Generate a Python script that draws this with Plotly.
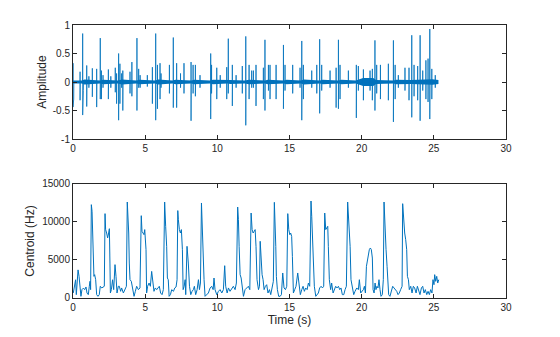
import plotly.graph_objects as go
from plotly.subplots import make_subplots

# ---- Top panel: audio waveform, read as individual bursts (time s, positive peak, negative peak)
spike_t = [0.00, 0.05, 0.49, 0.67, 0.72, 0.95, 1.10, 1.34, 1.64, 1.89, 1.97, 2.08, 2.45, 2.62,
           2.93, 3.02, 3.16, 3.25, 3.37, 3.45, 3.95, 4.08, 4.43, 4.55, 4.65, 5.15, 5.50, 5.73,
           5.85, 6.03, 6.10, 6.68, 6.95, 7.18, 7.45, 7.69, 8.18, 8.32, 8.48, 8.80, 9.54, 9.60,
           9.96, 10.20, 10.65, 10.76, 11.04, 11.30, 11.73, 11.97, 12.20, 12.38, 12.50, 12.68,
           13.19, 13.30, 13.54, 13.65, 14.07, 14.58, 14.69, 15.22, 15.73, 15.85, 15.96, 16.54,
           16.89, 17.09, 17.23, 17.81, 18.23, 18.39, 18.50, 19.08, 19.63, 19.77, 20.12, 20.58,
           20.74, 20.92, 21.04, 21.30, 21.85, 22.20, 22.32, 22.54, 23.00, 23.28, 23.47, 23.63,
           23.88, 24.05, 24.23, 24.45, 24.60, 24.72, 24.86, 25.10]
spike_up = [0.33, 0.20, 0.18, 0.85, 0.26, 0.29, 0.10, 0.24, 0.23, 0.77, 0.20, 0.12, 0.22, 0.10,
            0.25, 0.15, 0.50, 0.32, 0.15, 0.20, 0.18, 0.35, 0.77, 0.23, 0.12, 0.12, 0.26, 0.85,
            0.30, 0.33, 0.15, 0.30, 0.78, 0.33, 0.15, 0.33, 0.35, 0.30, 0.30, 0.12, 0.50, 0.30,
            0.25, 0.12, 0.26, 0.76, 0.30, 0.12, 0.28, 0.80, 0.30, 0.20, 0.20, 0.30,
            0.25, 0.74, 0.30, 0.30, 0.30, 0.65, 0.30, 0.30, 0.25, 0.72, 0.30, 0.20,
            0.30, 0.75, 0.30, 0.20, 0.25, 0.74, 0.30, 0.20, 0.30, 0.28, 0.22, 0.20,
            0.23, 0.73, 0.30, 0.30, 0.32, 0.73, 0.30, 0.12, 0.25, 0.25, 0.82, 0.30,
            0.28, 0.82, 0.20, 0.38, 0.41, 0.93, 0.23, 0.12]
spike_down = [-0.44, -0.30, -0.32, -0.58, -0.15, -0.43, -0.10, -0.26, -0.44, -0.30, -0.30, -0.10, -0.30, -0.10,
              -0.18, -0.38, -0.67, -0.38, -0.10, -0.50, -0.20, -0.25, -0.50, -0.10, -0.10, -0.08, -0.38, -0.67,
              -0.47, -0.30, -0.10, -0.20, -0.45, -0.45, -0.10, -0.20, -0.68, -0.20, -0.25, -0.10, -0.65, -0.20,
              -0.30, -0.10, -0.30, -0.20, -0.42, -0.10, -0.20, -0.76, -0.30, -0.10, -0.10, -0.42,
              -0.30, -0.50, -0.15, -0.30, -0.30, -0.47, -0.15, -0.20, -0.10, -0.67, -0.30, -0.10,
              -0.20, -0.55, -0.15, -0.10, -0.45, -0.47, -0.30, -0.10, -0.63, -0.15, -0.32, -0.15,
              -0.32, -0.50, -0.20, -0.30, -0.32, -0.70, -0.30, -0.10, -0.15, -0.32, -0.62, -0.25,
              -0.32, -0.68, -0.15, -0.30, -0.35, -0.65, -0.30, -0.10]

# dense low-level floor of the waveform (envelope)
floor_t = [0.0, 0.6, 0.8, 1.9, 2.1, 3.1, 3.4, 4.4, 4.6, 5.7, 5.9, 6.9, 7.1, 8.2, 8.4, 9.5, 9.7,
           10.7, 10.9, 11.9, 12.2, 13.3, 13.5, 14.6, 14.8, 15.8, 16.0, 17.1, 17.3, 18.4, 18.6,
           19.6, 19.8, 20.1, 20.8, 21.0, 22.2, 22.4, 23.4, 24.9, 25.32]
floor_amp = [0.025, 0.025, 0.045, 0.025, 0.04, 0.025, 0.045, 0.025, 0.04, 0.025, 0.045, 0.025, 0.04, 0.025, 0.04,
             0.025, 0.04, 0.025, 0.035, 0.025, 0.04, 0.025, 0.04, 0.025, 0.04, 0.025, 0.045, 0.025, 0.04,
             0.025, 0.04, 0.025, 0.04, 0.07, 0.07, 0.035, 0.025, 0.04, 0.035, 0.05, 0.035]

# ---- Bottom panel: spectral centroid (Hz)
cent_t = [0.02, 0.12, 0.18, 0.23, 0.35, 0.42, 0.48, 0.55, 0.62, 0.72, 0.81, 0.90, 0.97, 1.06, 1.13, 1.18,
          1.22, 1.27, 1.32, 1.36, 1.41, 1.45, 1.50, 1.57, 1.64, 1.73, 1.82, 1.89, 1.99, 2.08, 2.17,
          2.22, 2.26, 2.33, 2.40, 2.47, 2.52, 2.56, 2.59, 2.66, 2.74, 2.82, 2.91, 2.98, 3.05, 3.14,
          3.21, 3.30, 3.37, 3.49, 3.60, 3.70, 3.76, 3.81, 3.86, 3.90, 3.95, 4.04, 4.13, 4.23, 4.32,
          4.41, 4.53, 4.64, 4.73, 4.78, 4.85, 4.92, 4.97, 5.01, 5.06, 5.10, 5.17, 5.27, 5.36, 5.45,
          5.52, 5.61, 5.70, 5.80, 5.89, 5.98, 6.07, 6.17, 6.26, 6.35, 6.42, 6.49, 6.54, 6.60,
          6.66, 6.75, 6.84, 6.96, 7.05, 7.14, 7.21, 7.26, 7.30, 7.37, 7.44, 7.51, 7.58, 7.63, 7.70,
          7.77, 7.81, 7.90, 7.95, 7.99, 8.07, 8.16, 8.25, 8.34, 8.41, 8.50, 8.60, 8.69, 8.76, 8.83,
          8.90, 8.94, 8.99, 9.04, 9.08, 9.15, 9.27, 9.38, 9.50, 9.61, 9.71, 9.77, 9.84, 9.96, 10.08,
          10.19, 10.31, 10.42, 10.51, 10.58, 10.68, 10.77, 10.88, 11.00, 11.11, 11.23, 11.32, 11.41,
          11.46, 11.51, 11.58, 11.65, 11.74, 11.81, 11.92, 12.04, 12.15, 12.25, 12.34, 12.41, 12.48,
          12.55, 12.62, 12.68, 12.75, 12.85, 12.92, 12.97, 13.03, 13.10, 13.17, 13.24, 13.33, 13.42,
          13.51, 13.61, 13.70, 13.79, 13.88, 13.95, 14.00, 14.05, 14.09, 14.16, 14.25, 14.35, 14.44,
          14.53, 14.62, 14.72, 14.81, 14.88, 14.95, 15.02, 15.08, 15.15, 15.20, 15.27, 15.36, 15.45,
          15.57, 15.66, 15.75, 15.85, 15.94, 16.03, 16.12, 16.22, 16.31, 16.40, 16.49, 16.54, 16.59,
          16.66, 16.72, 16.82, 16.91, 17.00, 17.09, 17.19, 17.28, 17.37, 17.44, 17.51, 17.58, 17.65,
          17.69, 17.76, 17.85, 17.92, 18.02, 18.11, 18.20, 18.29, 18.39, 18.48, 18.57, 18.66, 18.76,
          18.85, 18.94, 19.03, 19.08, 19.13, 19.20, 19.26, 19.36, 19.45, 19.54, 19.66, 19.77, 19.84,
          19.93, 20.02, 20.12, 20.19, 20.26, 20.33, 20.39, 20.46, 20.53, 20.60, 20.67, 20.74, 20.79,
          20.86, 20.93, 20.99, 21.06, 21.13, 21.20, 21.27, 21.34, 21.43, 21.50, 21.55, 21.60, 21.64,
          21.69, 21.76, 21.80, 21.87, 21.96, 22.06, 22.15, 22.24, 22.33, 22.43, 22.52, 22.61, 22.70,
          22.80, 22.84, 22.91, 22.98, 23.05, 23.12, 23.17, 23.24, 23.30, 23.40, 23.49, 23.58, 23.67,
          23.77, 23.86, 23.95, 24.04, 24.14, 24.23, 24.32, 24.41, 24.51, 24.60, 24.69, 24.78, 24.87,
          24.94, 25.01, 25.06, 25.13, 25.20, 25.27, 25.34]
cent_hz = [660, 1540, 2400, 440, 3700, 2850, 1540, 220, 1100, 1300, 1100, 1450, 660, 440, 1540, 2200,
           1100, 12280, 11400, 9430, 6800, 2850, 3070, 2410, 440, 220, 440, 1540, 1320, 1450, 1540,
           11100, 9000, 8550, 7900, 8550, 9120, 4600, 660, 1100, 2400, 1100, 4390, 2850, 660, 1540,
           1540, 880, 1320, 660, 1100, 1540, 12630, 10750, 8550, 4600, 2410, 2200, 1100, 220, 880,
           1540, 1100, 1320, 10830, 8770, 8550, 8330, 9000, 7680, 6360, 660, 1540, 1970, 1540, 3500,
           2410, 880, 1320, 1100, 1320, 1540, 660, 440, 1100, 12630, 9430, 6800, 2630, 2410,
           220, 440, 1100, 880, 1320, 1450, 2400, 11500, 10300, 9000, 8550, 9000, 6360, 1100, 1540,
           2410, 440, 6800, 5700, 4600, 1540, 440, 880, 1100, 1540, 440, 1100, 2410, 1100, 1970,
           12500, 9870, 6800, 4600, 2410, 220, 440, 660, 1320, 1540, 1100, 2630, 1100, 440, 880,
           1100, 660, 1100, 4250, 1540, 660, 1320, 880, 1320, 1540, 1100, 1970, 11970,
           10300, 6800, 3070, 2630, 1100, 220, 1100, 1320, 1540, 1100, 11180, 9000, 8550,
           8770, 9000, 6800, 2410, 1100, 1540, 7460, 4600, 3070, 2410, 1100, 1540, 1750,
           660, 1100, 440, 1540, 2190, 12590, 10300, 6800, 2850, 1100, 220, 220, 440,
           3290, 1320, 1100, 1540, 11100, 9000, 8330, 8550, 8110, 5480, 660, 1100, 1540,
           3290, 1540, 440, 1100, 1540, 880, 1320, 1100, 1970, 1540, 12760, 10750, 7680,
           3070, 1540, 220, 440, 660, 1320, 1540, 1320, 1540, 11180, 9000, 9210, 9430,
           6800, 2410, 1100, 1970, 660, 1100, 1540, 1320, 1540, 1100, 1320, 440, 440,
           1100, 1540, 12630, 11180, 9870, 6800, 2410, 1100, 440, 880, 1320, 1100, 2410,
           660, 880, 1100, 1540, 660, 4170, 5040, 5700, 6360, 6580, 6360, 5260, 1100,
           660, 1970, 1100, 1540, 1320, 2410, 1100, 220, 440, 2410, 12630, 10300, 7240,
           6360, 4170, 2410, 440, 220, 1100, 1540, 1320, 1100, 880, 440, 660, 1100,
           1540, 12410, 9870, 8550, 7680, 6360, 2850, 2410, 1100, 1540, 660, 1540, 1320,
           660, 1540, 1100, 440, 1320, 1540, 660, 1100, 440, 880, 440, 1100, 660,
           2410, 1750, 3070, 2190, 2850, 1970, 2410]

x_ticks = [0, 5, 10, 15, 20, 25, 30]
amp_ticks = [-1, -0.5, 0, 0.5, 1]
amp_labels = ["-1", "-0.5", "0", "0.5", "1"]
cent_ticks = [0, 5000, 10000, 15000]
cent_labels = ["0", "5000", "10000", "15000"]

BLUE = "#0072BD"
AX = "#262626"
FONT = "Liberation Sans, Arial, Helvetica"

# build the waveform polyline from the bursts
wx, wy = [], []
for t, u, d in sorted(zip(spike_t, spike_up, spike_down)):
    wx += [t, t, t, t + 0.01]
    wy += [0, u, d, 0]

fig = make_subplots(rows=2, cols=1, vertical_spacing=0.1648)

fig.add_trace(go.Scatter(
    x=floor_t + floor_t[::-1],
    y=floor_amp + [-a for a in floor_amp[::-1]],
    fill="toself", fillcolor=BLUE, mode="lines", line=dict(width=0, color=BLUE),
    hoverinfo="skip", showlegend=False), row=1, col=1)
fig.add_trace(go.Scatter(x=wx, y=wy, mode="lines", line=dict(color=BLUE, width=0.8),
                         showlegend=False), row=1, col=1)
fig.add_trace(go.Scatter(x=cent_t, y=cent_hz, mode="lines", line=dict(color=BLUE, width=1),
                         showlegend=False), row=2, col=1)

axis_common = dict(showline=True, linecolor=AX, linewidth=1, mirror="ticks", ticks="inside",
                   ticklen=4, tickcolor=AX, tickwidth=1, showgrid=False, zeroline=False,
                   tickfont=dict(family=FONT, size=10, color=AX))

fig.update_xaxes(**axis_common, range=[0, 30], tickvals=x_ticks)
fig.update_xaxes(title=dict(text="Time (s)", font=dict(family=FONT, size=12, color=AX),
                            standoff=1), row=2, col=1)
fig.update_yaxes(**axis_common)
fig.update_yaxes(range=[-1, 1], tickvals=amp_ticks, ticktext=amp_labels,
                 title=dict(text="Amplitude", font=dict(family=FONT, size=12, color=AX),
                            standoff=3), row=1, col=1)
fig.update_yaxes(range=[0, 15000], tickvals=cent_ticks, ticktext=cent_labels,
                 title=dict(text="Centroid (Hz)", font=dict(family=FONT, size=12, color=AX),
                            standoff=4), row=2, col=1)

fig.update_layout(width=560, height=337, margin=dict(l=73, r=54, t=25, b=39),
                  plot_bgcolor="white", paper_bgcolor="white")

fig.write_html("out.html")
